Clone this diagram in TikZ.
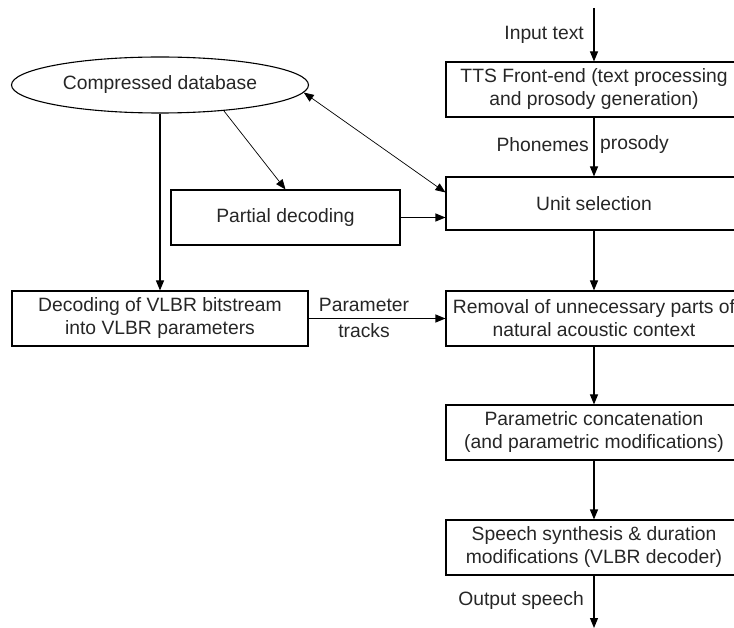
\documentclass[tikz,border=0pt]{standalone}
\usepackage{fontspec}
\setmainfont{Liberation Sans}
\usetikzlibrary{shapes.geometric,arrows.meta,calc}
\begin{document}
\begin{tikzpicture}[x=1pt,y=-1pt,
  every node/.style={font=\fontsize{19.3}{23}\selectfont, text=black!85},
  block/.style={draw, line width=1.1pt, minimum width=296pt, minimum height=55pt,
    align=center, inner sep=0pt},
  db/.style={draw, line width=1.1pt, ellipse, minimum width=297pt, minimum height=56pt, inner sep=0pt},
  lbl/.style={inner sep=0pt},
  flow/.style={line width=1.1pt, -{Triangle[length=10pt,width=8pt]}},
  thin flow/.style={line width=0.7pt, -{Triangle[length=10pt,width=8pt]}},
  both flow/.style={line width=0.7pt, {Triangle[length=10pt,width=8pt]}-{Triangle[length=10pt,width=8pt]}}]
\useasboundingbox (0,0) rectangle (734,628);

% main processing chain
\coordinate (inp) at (594,8);
\coordinate (outp) at (594,628);
\node[block] (tts) at (594,89.5) {TTS Front-end (text processing\\and prosody generation)};
\node[block, minimum height=53pt] (us) at (594,203.5) {Unit selection};
\node[block] (rem) at (594,318.5) {Removal of unnecessary parts of\\natural acoustic context};
\node[block] (par) at (594,432.5) {Parametric concatenation\\(and parametric modifications)};
\node[block] (syn) at (594,547.5) {Speech synthesis \& duration\\modifications (VLBR decoder)};

% database side
\node[db] (ell) at (160,85) {Compressed database};
\node[block, minimum width=229pt] (pd) at (285.5,217.5) {Partial decoding};
\node[block] (dec) at (160,318.5) {Decoding of VLBR bitstream\\into VLBR parameters};

% labels on the connectors
\node[lbl, anchor=east] (lin) at (584,35) {Input text};
\node[lbl, anchor=east] (lph) at (589,145) {Phonemes};
\node[lbl, anchor=west] (lpr) at (600,145) {prosody};
\node[lbl] (lpa) at (364,305) {Parameter};
\node[lbl] (ltr) at (364,331) {tracks};
\node[lbl, anchor=east] (lout) at (584,601) {Output speech};

% connectors
\draw[flow] (inp) -- (tts.north);
\draw[flow] (tts.south) -- (us.north);
\draw[flow] (us.south) -- (rem.north);
\draw[flow] (rem.south) -- (par.north);
\draw[flow] (par.south) -- (syn.north);
\draw[flow] (syn.south) -- (outp);
\draw[flow] (ell.south) -- (dec.north);
\draw[thin flow] (ell.-22) -- (pd.north);
\draw[flow] (pd.east) -- (us.west |- pd.east);
\draw[both flow] (ell.-3) -- ([yshift=-16pt]us.north west);
\draw[flow] (dec.east) -- (rem.west);
\end{tikzpicture}
\end{document}
